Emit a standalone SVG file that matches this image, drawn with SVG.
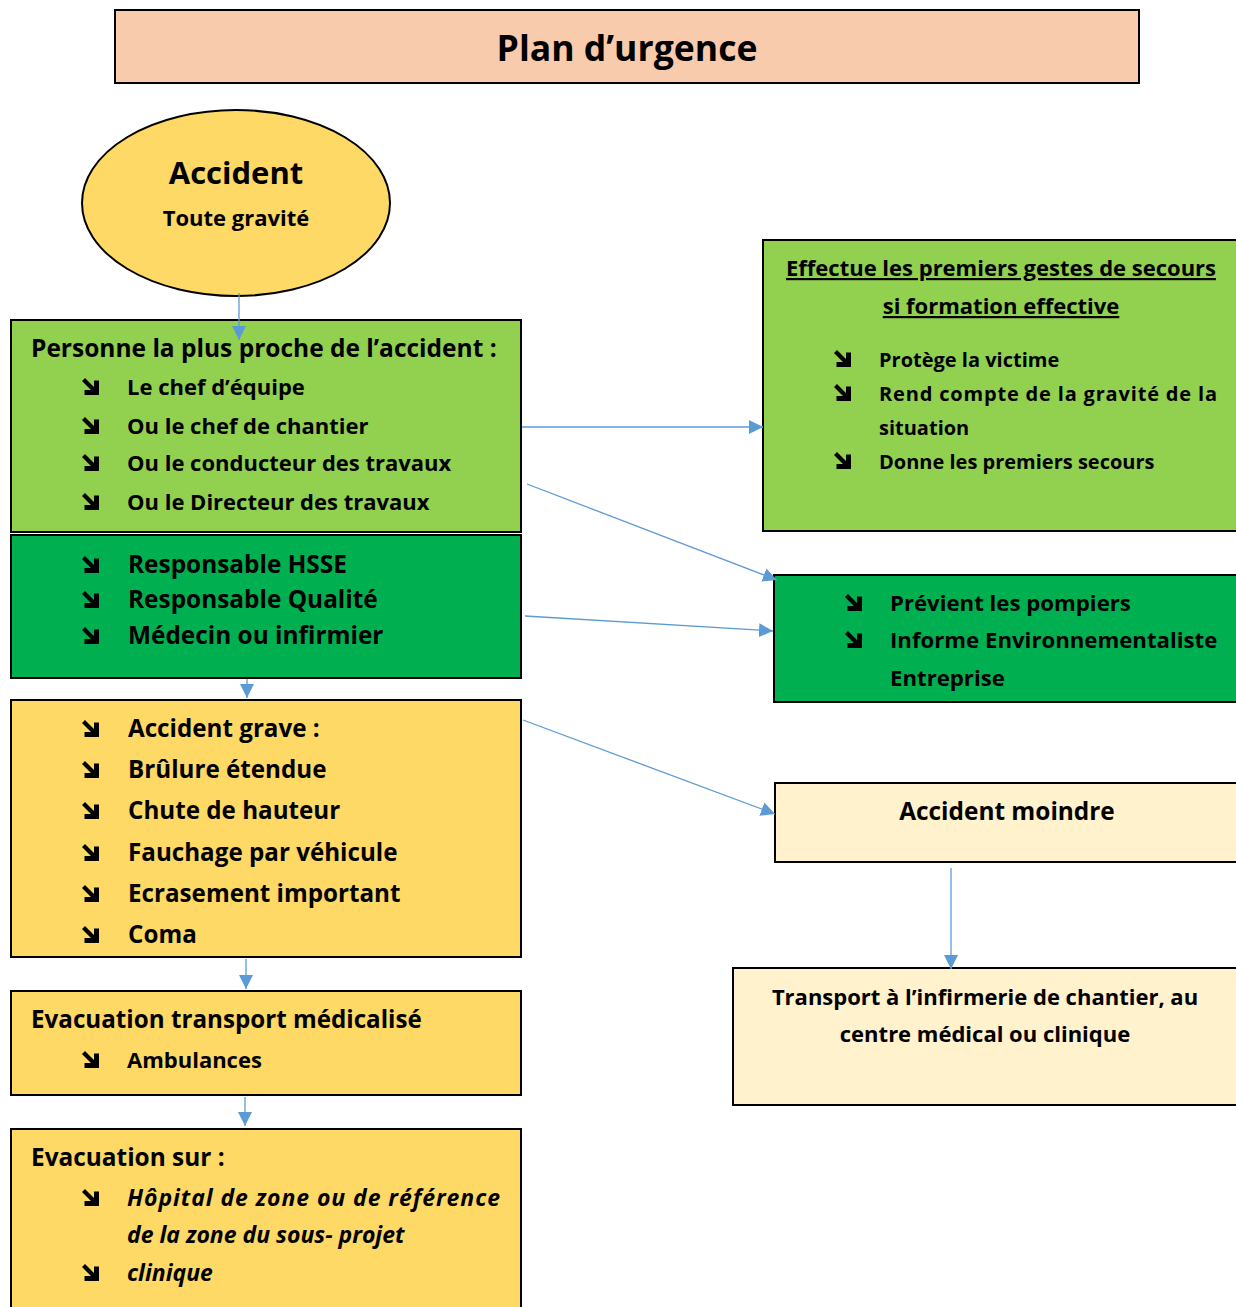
<svg xmlns="http://www.w3.org/2000/svg" width="1236" height="1307" viewBox="0 0 1236 1307">
<style>
.box{stroke:#000;stroke-width:2}
.t{font-family:"Open Sans",Lato,"Liberation Sans",sans-serif;font-weight:bold;fill:#000}
.c{stroke:#5B9BD5;stroke-width:1.3;fill:none}
</style>
<defs>
<marker id="ah2" viewBox="0 0 10 10" refX="10" refY="5" markerWidth="14" markerHeight="14" markerUnits="userSpaceOnUse" orient="auto"><path d="M0,0 L10,5 L0,10 Z" fill="#5B9BD5"/></marker>
<path id="b" d="M0,3 L3,0 L12,9 L12,2.5 L17,2.5 L17,17 L2.5,17 L2.5,12 L9,12 Z" fill="#000"/>
</defs>
<rect width="1236" height="1307" fill="#fff"/>

<g id="title">
<rect class="box" x="115" y="10" width="1024" height="73" fill="#F8CBAD"/>
<text class="t" x="627" y="61" font-size="35.6" text-anchor="middle">Plan d’urgence</text>
</g>

<g id="accident">
<ellipse class="box" cx="236" cy="203" rx="154" ry="93" fill="#FFD966" stroke-width="1.5"/>
<text class="t" x="236" y="184" font-size="31" text-anchor="middle">Accident</text>
<text class="t" x="236" y="226" font-size="22" text-anchor="middle">Toute gravité</text>
</g>

<g id="personne">
<rect class="box" x="11" y="320" width="510" height="212" fill="#92D050"/>
<text class="t" x="31" y="357" font-size="24.5">Personne la plus proche de l’accident :</text>
<use href="#b" x="82" y="378"/><text class="t" x="127" y="395" font-size="22">Le chef d’équipe</text>
<use href="#b" x="82" y="417"/><text class="t" x="127" y="434" font-size="22">Ou le chef de chantier</text>
<use href="#b" x="82" y="454"/><text class="t" x="127" y="471" font-size="22">Ou le conducteur des travaux</text>
<use href="#b" x="82" y="493"/><text class="t" x="127" y="510" font-size="22">Ou le Directeur des travaux</text>
</g>

<g id="responsables">
<rect class="box" x="11" y="535" width="510" height="143" fill="#00B050"/>
<use href="#b" x="82" y="556"/><text class="t" x="128" y="573" font-size="24.4">Responsable HSSE</text>
<use href="#b" x="82" y="591"/><text class="t" x="128" y="608" font-size="24.4">Responsable Qualité</text>
<use href="#b" x="82" y="627"/><text class="t" x="128" y="644" font-size="24.4">Médecin ou infirmier</text>
</g>

<g id="grave">
<rect class="box" x="11" y="700" width="510" height="257" fill="#FFD966"/>
<use href="#b" x="82" y="720"/><text class="t" x="128" y="737" font-size="24.2">Accident grave :</text>
<use href="#b" x="82" y="761"/><text class="t" x="128" y="778" font-size="24.2">Brûlure étendue</text>
<use href="#b" x="82" y="802"/><text class="t" x="128" y="819" font-size="24.2">Chute de hauteur</text>
<use href="#b" x="82" y="844"/><text class="t" x="128" y="861" font-size="24.2">Fauchage par véhicule</text>
<use href="#b" x="82" y="885"/><text class="t" x="128" y="902" font-size="24.2">Ecrasement important</text>
<use href="#b" x="82" y="926"/><text class="t" x="128" y="943" font-size="24.2">Coma</text>
</g>

<g id="transport">
<rect class="box" x="11" y="991" width="510" height="104" fill="#FFD966"/>
<text class="t" x="31" y="1028" font-size="24.2">Evacuation transport médicalisé</text>
<use href="#b" x="82" y="1051"/><text class="t" x="127" y="1068" font-size="22">Ambulances</text>
</g>

<g id="evacuation">
<rect class="box" x="11" y="1129" width="510" height="190" fill="#FFD966"/>
<text class="t" x="31" y="1166" font-size="24.4">Evacuation sur :</text>
<use href="#b" x="82" y="1189"/><text class="t" x="127" y="1206" font-size="23" font-style="italic" textLength="373" lengthAdjust="spacing">Hôpital de zone ou de référence</text>
<text class="t" x="127" y="1243" font-size="23" font-style="italic">de la zone du sous- projet</text>
<use href="#b" x="82" y="1264"/><text class="t" x="127" y="1281" font-size="23" font-style="italic">clinique</text>
</g>

<g id="secours">
<rect class="box" x="763" y="240" width="480" height="291" fill="#92D050"/>
<text class="t" x="1001" y="276" font-size="22" text-anchor="middle" text-decoration="underline">Effectue les premiers gestes de secours</text>
<text class="t" x="1001" y="314" font-size="22" text-anchor="middle" text-decoration="underline">si formation effective</text>
<use href="#b" x="834" y="350"/><text class="t" x="879" y="367" font-size="20">Protège la victime</text>
<use href="#b" x="834" y="384"/><text class="t" x="879" y="401" font-size="20" textLength="338" lengthAdjust="spacing">Rend compte de la gravité de la</text>
<text class="t" x="879" y="435" font-size="20">situation</text>
<use href="#b" x="834" y="452"/><text class="t" x="879" y="469" font-size="20">Donne les premiers secours</text>
</g>

<g id="pompiers">
<rect class="box" x="774" y="575" width="470" height="127" fill="#00B050"/>
<use href="#b" x="845" y="594"/><text class="t" x="890" y="611" font-size="22.2">Prévient les pompiers</text>
<use href="#b" x="845" y="631"/><text class="t" x="890" y="648" font-size="22.2">Informe Environnementaliste</text>
<text class="t" x="890" y="686" font-size="22.2">Entreprise</text>
</g>

<g id="moindre">
<rect class="box" x="775" y="783" width="470" height="79" fill="#FFF2CC"/>
<text class="t" x="1007" y="820" font-size="24.4" text-anchor="middle">Accident moindre</text>
</g>

<g id="infirmerie">
<rect class="box" x="733" y="968" width="510" height="137" fill="#FFF2CC"/>
<text class="t" x="985" y="1005" font-size="22" text-anchor="middle">Transport à l’infirmerie de chantier, au</text>
<text class="t" x="985" y="1042" font-size="22" text-anchor="middle">centre médical ou clinique</text>
</g>

<g id="connectors">
<line class="c" x1="239" y1="293" x2="239" y2="340" marker-end="url(#ah2)"/>
<line class="c" x1="247" y1="679" x2="247" y2="698" marker-end="url(#ah2)"/>
<line class="c" x1="246" y1="959" x2="246" y2="989" marker-end="url(#ah2)"/>
<line class="c" x1="245" y1="1097" x2="245" y2="1126" marker-end="url(#ah2)"/>
<line class="c" x1="522" y1="427" x2="763" y2="427" marker-end="url(#ah2)"/>
<line class="c" x1="527" y1="484" x2="777" y2="580" marker-end="url(#ah2)"/>
<line class="c" x1="525" y1="616" x2="773" y2="631" marker-end="url(#ah2)"/>
<line class="c" x1="523" y1="720" x2="775" y2="814" marker-end="url(#ah2)"/>
<line class="c" x1="951" y1="868" x2="951" y2="969" marker-end="url(#ah2)"/>
</g>
</svg>
